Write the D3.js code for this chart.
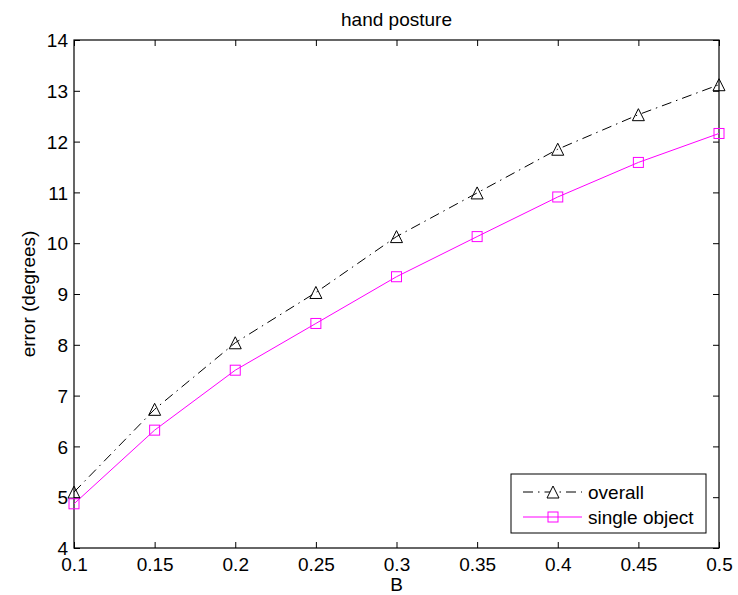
<!DOCTYPE html>
<html><head><meta charset="utf-8">
<script src="https://cdn.jsdelivr.net/npm/d3@7"></script>
<style>body{margin:0;background:#fff}text{font-family:"Liberation Sans",Arial,sans-serif;fill:#000}</style>
</head><body><svg id="c" width="738" height="595"></svg>
<script>
const xValues = [0.1, 0.15, 0.2, 0.25, 0.3, 0.35, 0.4, 0.45, 0.5];
const overall = [5.1, 6.73, 8.04, 9.03, 10.13, 10.99, 11.85, 12.53, 13.12];
const singleObject = [4.87, 6.32, 7.5, 8.42, 9.34, 10.13, 10.91, 11.59, 12.16];
const xTicks = [0.1, 0.15, 0.2, 0.25, 0.3, 0.35, 0.4, 0.45, 0.5];
const yTicks = [4, 5, 6, 7, 8, 9, 10, 11, 12, 13, 14];
const seriesNames = ["overall", "single object"];

const svg = d3.select("#c");
const L = 74, R = 719, T = 40, B = 548;
const x = d3.scaleLinear().domain([0.1, 0.5]).range([L, R]);
const y = d3.scaleLinear().domain([4, 14]).range([B, T]);
const fs = 19;

svg.append("rect").attr("x", L).attr("y", T).attr("width", R - L).attr("height", B - T)
  .attr("fill", "none").attr("stroke", "#000").attr("stroke-width", 1.2);

const fmtX = d => String(d);
const gxB = svg.append("g").attr("transform", `translate(0,${B})`)
  .call(d3.axisBottom(x).tickValues(xTicks).tickFormat(fmtX).tickSizeInner(-6).tickSizeOuter(0).tickPadding(23));
const gxT = svg.append("g").attr("transform", `translate(0,${T})`)
  .call(d3.axisTop(x).tickValues(xTicks).tickFormat("").tickSizeInner(-6).tickSizeOuter(0));
const gyL = svg.append("g").attr("transform", `translate(${L},0)`)
  .call(d3.axisLeft(y).tickValues(yTicks).tickFormat(d3.format("d")).tickSizeInner(-6).tickSizeOuter(0).tickPadding(6));
const gyR = svg.append("g").attr("transform", `translate(${R},0)`)
  .call(d3.axisRight(y).tickValues(yTicks).tickFormat("").tickSizeInner(-6).tickSizeOuter(0));
[gxB, gxT, gyL, gyR].forEach(g => {
  g.select(".domain").remove();
  g.selectAll("line").attr("stroke", "#000");
  g.selectAll("text").attr("font-size", fs).attr("font-family", null);
});
gxB.selectAll("text").attr("dy", "0");
gyL.selectAll("text").attr("dy", "0.35em");

svg.append("text").attr("x", (L + R) / 2).attr("y", 26).attr("text-anchor", "middle")
  .attr("font-size", fs).text("hand posture");
svg.append("text").attr("x", (L + R) / 2).attr("y", 591).attr("text-anchor", "middle")
  .attr("font-size", fs).text("B");
svg.append("text").attr("transform", `translate(35,${(T + B) / 2}) rotate(-90)`)
  .attr("text-anchor", "middle").attr("font-size", fs).text("error (degrees)");

const line = d3.line().x(d => x(d[0])).y(d => y(d[1]));
const dataO = xValues.map((v, i) => [v, overall[i]]);
const dataS = xValues.map((v, i) => [v, singleObject[i]]);
const dash = "10,5,1.5,5";
const magenta = "#ff00ff";

svg.append("path").datum(dataO).attr("d", line).attr("fill", "none")
  .attr("stroke", "#000").attr("stroke-width", 1).attr("stroke-dasharray", dash);
svg.append("path").datum(dataS).attr("d", line).attr("fill", "none")
  .attr("stroke", magenta).attr("stroke-width", 1);

function triPath(cx, cy) {
  const h = 6;
  return `M${cx},${cy - h}L${cx + h},${cy + h}L${cx - h},${cy + h}Z`;
}
svg.selectAll(".tri").data(dataO).enter().append("path")
  .attr("d", d => triPath(x(d[0]), y(d[1]))).attr("fill", "none").attr("stroke", "#000").attr("stroke-width", 1);
svg.selectAll(".sq").data(dataS).enter().append("rect")
  .attr("x", d => x(d[0]) - 5).attr("y", d => y(d[1]) - 5).attr("width", 10).attr("height", 10)
  .attr("fill", "none").attr("stroke", magenta).attr("stroke-width", 1);

// legend
const lg = svg.append("g");
lg.append("rect").attr("x", 511).attr("y", 474).attr("width", 195).attr("height", 59)
  .attr("fill", "#fff").attr("stroke", "#000").attr("stroke-width", 1);
const rows = [492, 517];
lg.append("line").attr("x1", 523).attr("x2", 582).attr("y1", rows[0]).attr("y2", rows[0])
  .attr("stroke", "#000").attr("stroke-dasharray", dash);
lg.append("path").attr("d", triPath(553, rows[0])).attr("fill", "#fff").attr("stroke", "#000");
lg.append("line").attr("x1", 523).attr("x2", 582).attr("y1", rows[1]).attr("y2", rows[1]).attr("stroke", magenta);
lg.append("rect").attr("x", 548).attr("y", rows[1] - 5).attr("width", 10).attr("height", 10)
  .attr("fill", "none").attr("stroke", magenta);
seriesNames.forEach((n, i) => {
  lg.append("text").attr("x", 588).attr("y", rows[i]).attr("dy", "0.35em").attr("font-size", fs).text(n);
});
</script></body></html>
